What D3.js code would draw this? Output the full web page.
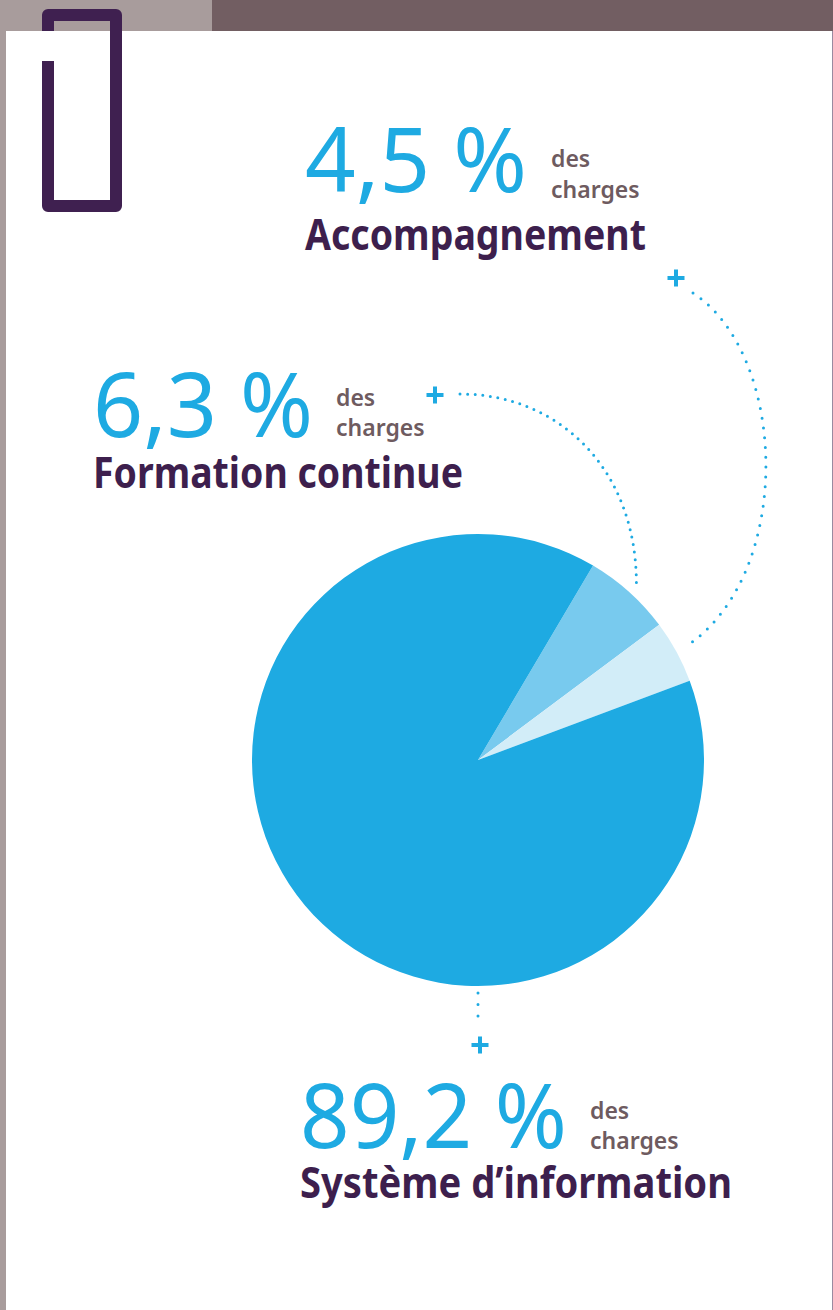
<!DOCTYPE html>
<html>
<head>
<meta charset="utf-8">
<script src="https://cdn.jsdelivr.net/npm/d3@7"></script>
<style>
  html, body { margin: 0; padding: 0; background: #fff; }
  svg { display: block; }
</style>
</head>
<body>
<div id="chart"></div>
<script>
// data
var categories = ["Formation continue", "Accompagnement", "Système d\u2019information"];
var shares = [6.3, 4.5, 89.2];
var shareLabels = ["6,3 %", "4,5 %", "89,2 %"];
var subLabel = ["des", "charges"];
var sliceColors = ["#78caee", "#d2edf8", "#1eaae2"];

var svgWidth = 833;
var svgHeight = 1310;

var blue = "#1eaae2";
var purple = "#3d1f4d";
var grey = "#6e5b60";

var svg = d3.select("#chart")
    .append("svg")
    .attr("width", svgWidth)
    .attr("height", svgHeight);

// page frame
svg.append("rect").attr("x", 0).attr("y", 0).attr("width", svgWidth).attr("height", svgHeight).attr("fill", "#a89c9c");
svg.append("rect").attr("x", 212).attr("y", 0).attr("width", svgWidth - 212).attr("height", 31).attr("fill", "#725e62");
svg.append("rect").attr("x", 6).attr("y", 31).attr("width", 826).attr("height", svgHeight - 31).attr("fill", "#fff");
svg.append("rect").attr("x", 832).attr("y", 31).attr("width", 1).attr("height", svgHeight - 31).attr("fill", "#9a8aa0");

// bracket ornament
svg.append("path")
    .attr("d", "M48,31 V15 H116 V206 H48 V61")
    .attr("fill", "none")
    .attr("stroke", "#3f2050")
    .attr("stroke-width", 12)
    .attr("stroke-linejoin", "round");

// pie
var cx = 478, cy = 760, radius = 226;
var startDeg = 30.6;

var pie = d3.pie()
    .sort(null)
    .startAngle(startDeg * Math.PI / 180)
    .endAngle((startDeg + 360) * Math.PI / 180);

var arc = d3.arc().innerRadius(0).outerRadius(radius);

var arcs = pie(shares);

var pieGroup = svg.append("g")
    .attr("transform", `translate(${cx}, ${cy})`);

pieGroup.selectAll("path")
    .data(arcs)
    .enter()
    .append("path")
    .attr("d", arc)
    .attr("fill", (d, i) => sliceColors[i]);

// point just outside the pie at a given angle
function rimPoint(angle, extra) {
    var r = radius + extra;
    return [cx + r * Math.sin(angle), cy - r * Math.cos(angle)];
}

// label layout (positions only)
var layout = [
    { x: 93, numBase: 437, subX: 336, desBase: 406, chBase: 436, labBase: 488, numW: 220, labW: 370, plus: [435, 395] },
    { x: 305, numBase: 192, subX: 551, desBase: 167, chBase: 198, labBase: 250, numW: 222, labW: 341, plus: [676, 278] },
    { x: 300, numBase: 1148, subX: 590, desBase: 1119, chBase: 1149, labBase: 1198, numW: 267, labW: 432, plus: [480, 1045] }
];

var labels = svg.append("g");

layout.forEach(function(p, i) {
    labels.append("text")
        .attr("x", p.x)
        .attr("y", p.numBase)
        .attr("font-family", "'Noto Sans', sans-serif")
        .attr("font-size", 90)
        .attr("fill", blue)
        .attr("textLength", p.numW)
        .attr("lengthAdjust", "spacingAndGlyphs")
        .text(shareLabels[i]);

    labels.append("text")
        .attr("x", p.subX)
        .attr("y", p.desBase)
        .attr("font-family", "'Noto Sans', sans-serif")
        .attr("font-size", 23)
        .attr("font-weight", 600)
        .attr("fill", grey)
        .text(subLabel[0]);

    labels.append("text")
        .attr("x", p.subX)
        .attr("y", p.chBase)
        .attr("font-family", "'Noto Sans', sans-serif")
        .attr("font-size", 23)
        .attr("font-weight", 600)
        .attr("fill", grey)
        .text(subLabel[1]);

    labels.append("text")
        .attr("x", p.x)
        .attr("y", p.labBase)
        .attr("font-family", "'Noto Sans', sans-serif")
        .attr("font-size", 43)
        .attr("font-weight", 700)
        .attr("fill", purple)
        .attr("textLength", p.labW)
        .attr("lengthAdjust", "spacingAndGlyphs")
        .text(categories[i]);

    // plus marker
    var s = 8.5;
    labels.append("path")
        .attr("d", `M${p.plus[0] - s},${p.plus[1]} H${p.plus[0] + s} M${p.plus[0]},${p.plus[1] - s} V${p.plus[1] + s}`)
        .attr("stroke", blue)
        .attr("stroke-width", 4);
});

// dotted connectors
var connectors = svg.append("g")
    .attr("fill", "none")
    .attr("stroke", blue)
    .attr("stroke-width", 3)
    .attr("stroke-linecap", "round");

var midF = (arcs[0].startAngle + arcs[0].endAngle) / 2;
var endF = rimPoint(midF, 11);
connectors.append("path")
    .attr("d", `M460,394 C560,394 ${endF[0]},470 ${endF[0]},${endF[1]}`)
    .attr("stroke-dasharray", "0 7.6");

var midA = (arcs[1].startAngle + arcs[1].endAngle) / 2;
var endA = rimPoint(midA, 10);
connectors.append("path")
    .attr("d", `M693,293 C788,355 795,575 ${endA[0]},${endA[1]}`)
    .attr("stroke-dasharray", "0 9.8");

var topS = rimPoint(Math.PI, 7);
connectors.append("path")
    .attr("d", `M${topS[0]},${topS[1]} V1018`)
    .attr("stroke-dasharray", "0 11.5");
</script>
</body>
</html>
